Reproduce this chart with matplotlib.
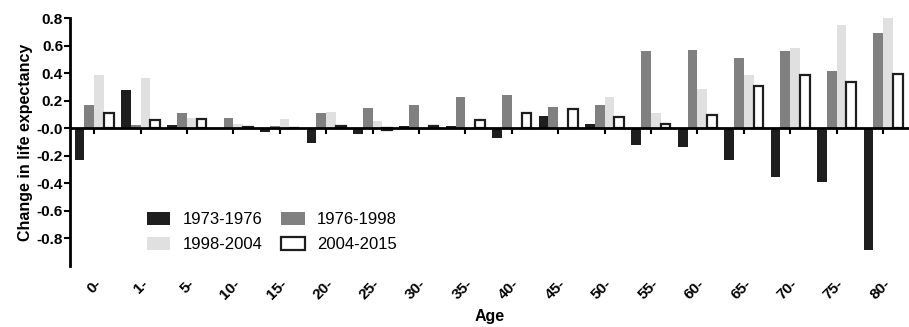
import matplotlib
matplotlib.use('Agg')
import matplotlib.pyplot as plt
import numpy as np

plt.rcParams['font.family'] = ['Liberation Sans', 'DejaVu Sans']

# ------------------ DATA ------------------
ages = ['0-', '1-', '5-', '10-', '15-', '20-', '25-', '30-', '35-',
        '40-', '45-', '50-', '55-', '60-', '65-', '70-', '75-', '80-']
p1973_1976 = [-0.23, 0.28, 0.025, 0.005, -0.03, -0.11, -0.04, 0.017, 0.017,
              -0.07, 0.093, 0.03, -0.12, -0.135, -0.23, -0.355, -0.39, -0.885]
p1976_1998 = [0.168, 0.024, 0.11, 0.073, 0.02, 0.11, 0.146, 0.17, 0.23,
              0.24, 0.153, 0.17, 0.56, 0.566, 0.508, 0.56, 0.42, 0.69]
p1998_2004 = [0.39, 0.365, 0.073, 0.03, 0.068, 0.12, 0.056, 0.003, 0.005,
              0.005, 0.01, 0.23, 0.11, 0.286, 0.385, 0.586, 0.752, 0.808]
p2004_2015 = [0.11, 0.06, 0.068, 0.01, 0.005, 0.02, -0.01, 0.02, 0.06,
              0.11, 0.14, 0.085, 0.03, 0.095, 0.31, 0.39, 0.334, 0.396]
series_labels = ['1973-1976', '1976-1998', '1998-2004', '2004-2015']
y_ticks = [-0.8, -0.6, -0.4, -0.2, 0.0, 0.2, 0.4, 0.6, 0.8]
y_tick_labels = ['-0.8', '-0.6', '-0.4', '-0.2', '-0.0', '0.2', '0.4', '0.6', '0.8']
# ------------------------------------------

fig = plt.figure(figsize=(9.09, 3.27), dpi=100)
ax = fig.add_axes([0.077, 0.187, 0.923, 0.757])

x = np.arange(len(ages))
w = 0.21
series = [p1973_1976, p1976_1998, p1998_2004, p2004_2015]
faces = ['#1e1e1e', '#808080', '#e0e0e0', 'white']
edges = ['#1e1e1e', '#808080', '#e0e0e0', '#1e1e1e']
lws = [0, 0, 0, 1.6]

bars = []
for i, (vals, fc, ec, lw, lab) in enumerate(zip(series, faces, edges, lws, series_labels)):
    b = ax.bar(x + (i - 1.5) * w, vals, width=w, color=fc, edgecolor=ec,
               linewidth=lw, label=lab, zorder=2)
    bars.append(b)

ax.set_xlim(-0.52, 17.56)
ax.set_ylim(-1.0, 0.8)

# spines: zero line with ticks, thick left axis
ax.spines['top'].set_visible(False)
ax.spines['right'].set_visible(False)
ax.spines['bottom'].set_position(('data', 0))
ax.spines['bottom'].set_linewidth(2)
ax.spines['bottom'].set_zorder(3)
ax.spines['left'].set_linewidth(2)

ax.set_xticks(x)
ax.tick_params(axis='x', labelbottom=False, direction='out', length=4, width=1.5)
ax.set_yticks(y_ticks, y_tick_labels)
ax.tick_params(axis='y', direction='out', length=4, width=1.5, labelsize=11, pad=1)
for t in ax.get_yticklabels():
    t.set_fontweight('bold')

# age labels along the bottom of the plot
sec = ax.secondary_xaxis('bottom')
sec.set_xticks(x, ages, rotation=45, ha='right', rotation_mode='anchor')
sec.tick_params(length=0, labelsize=11, pad=8)
sec.spines['bottom'].set_visible(False)
for t in sec.get_xticklabels():
    t.set_fontweight('bold')
sec.set_xlabel('Age', fontsize=11.5, fontweight='bold', labelpad=5)

ax.set_ylabel('Change in life expectancy', fontsize=11.5, fontweight='bold', labelpad=3)

# legend fills row by row: reorder handles for matplotlib's column filling
order = [0, 2, 1, 3]
leg = ax.legend([bars[k] for k in order], [series_labels[k] for k in order],
                ncol=2, frameon=False, fontsize=12, loc='center',
                bbox_to_anchor=(0.299, 0.29), bbox_transform=fig.transFigure,
                handlelength=1.4, handleheight=0.8, columnspacing=1.15,
                labelspacing=0.6, handletextpad=0.72)

fig.savefig('out.png', dpi=100)
